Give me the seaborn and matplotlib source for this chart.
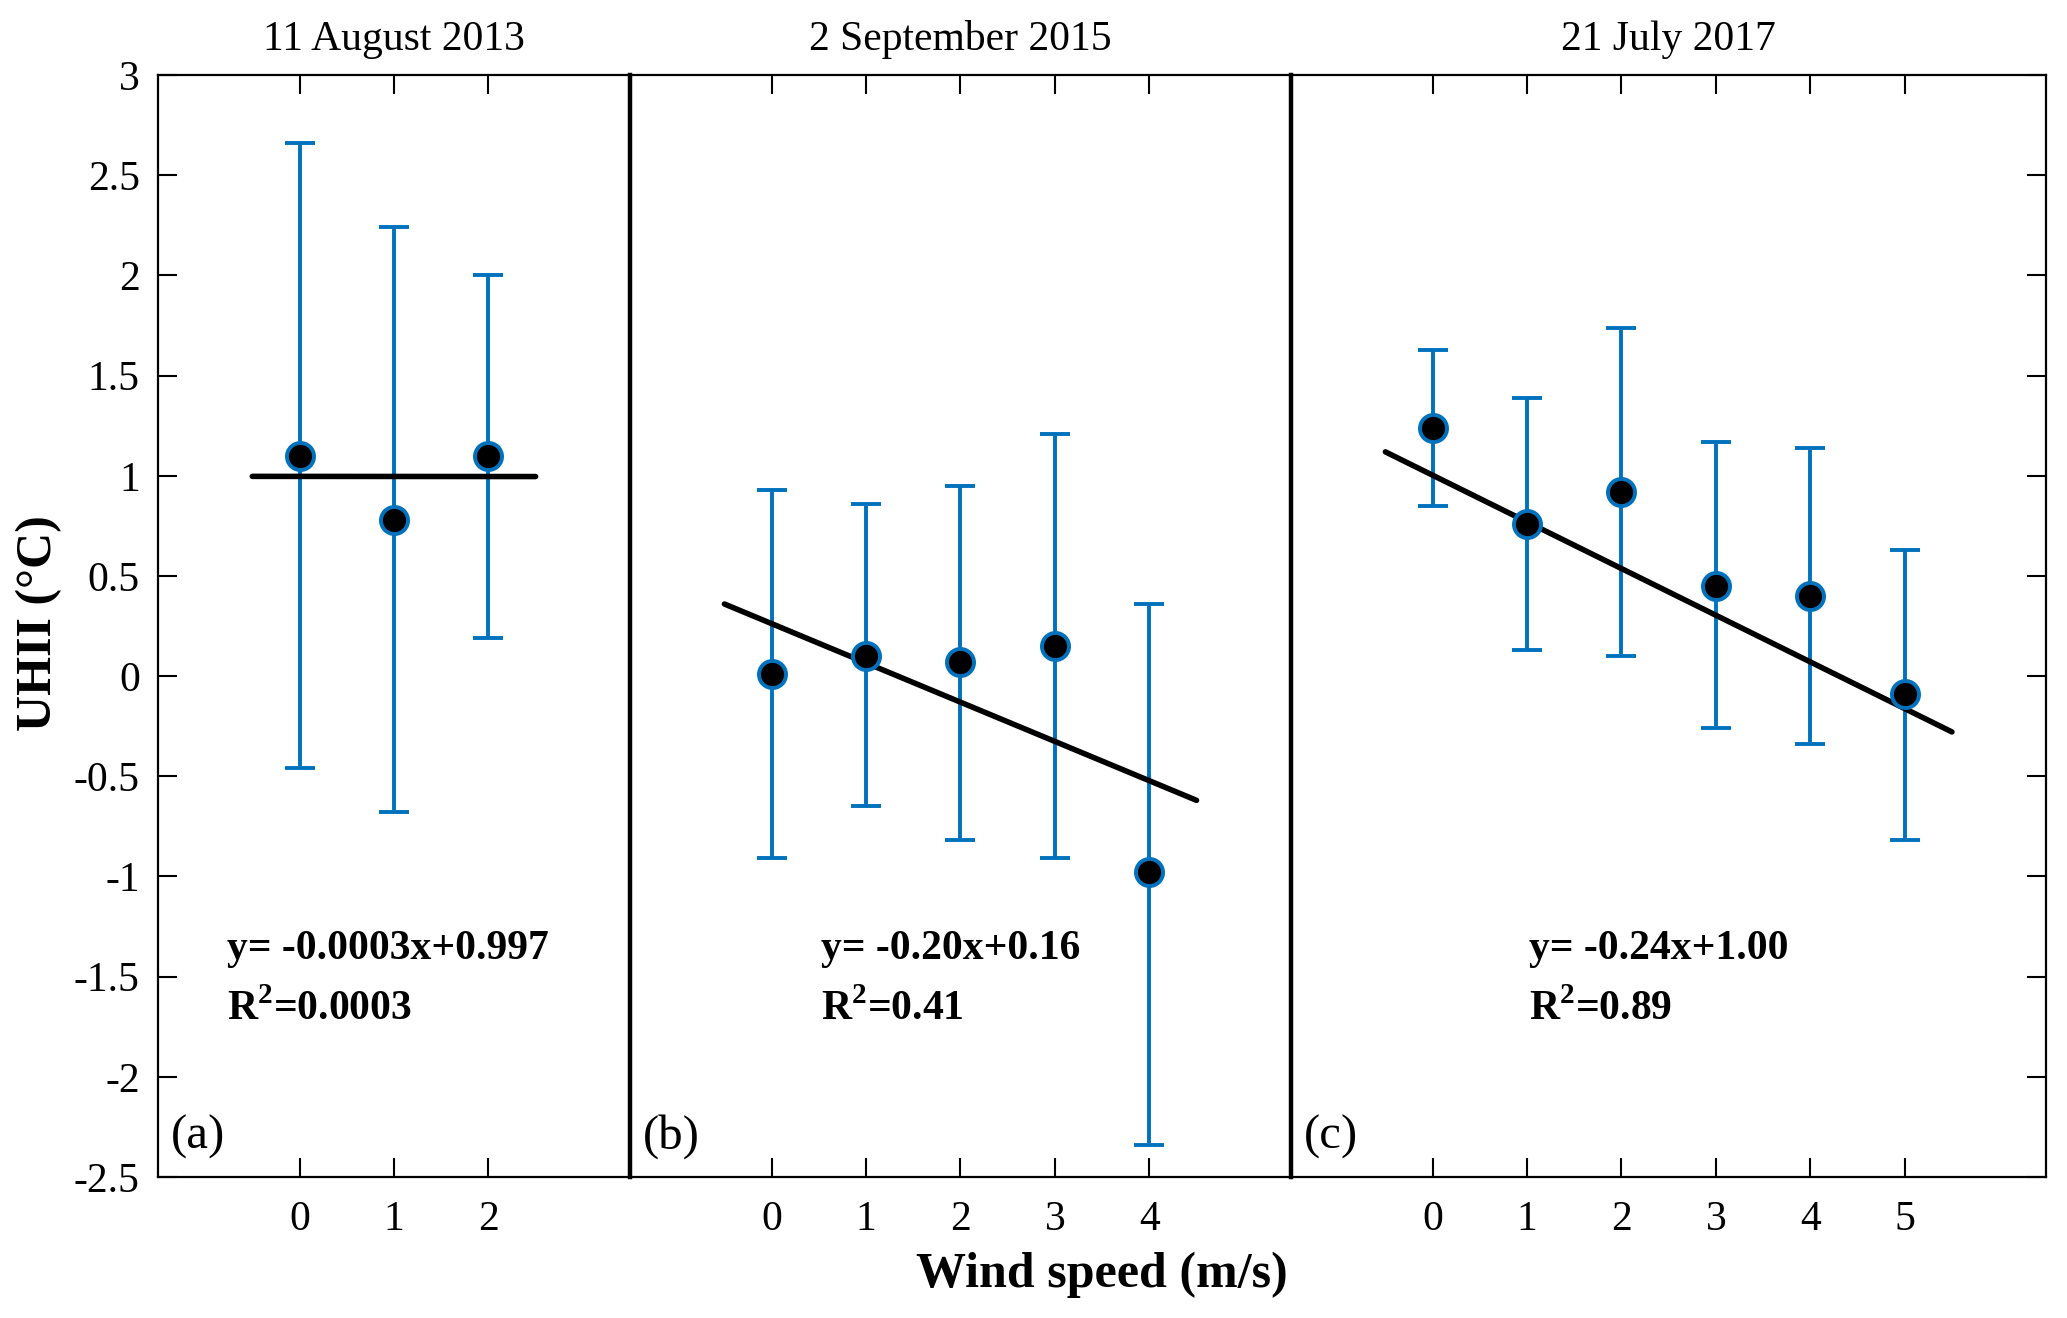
import numpy as np
import pandas as pd
import matplotlib
matplotlib.use("Agg")
import matplotlib.pyplot as plt
import seaborn as sns

# ---- data ----
titles  = ["11 August 2013", "2 September 2015", "21 July 2017"]
letters = ["(a)", "(b)", "(c)"]

wind_a  = [0, 1, 2]
mean_a  = [1.10, 0.78, 1.10]
upper_a = [2.66, 2.24, 2.00]
lower_a = [-0.46, -0.68, 0.19]

wind_b  = [0, 1, 2, 3, 4]
mean_b  = [0.01, 0.10, 0.07, 0.15, -0.98]
upper_b = [0.93, 0.86, 0.95, 1.21, 0.36]
lower_b = [-0.91, -0.65, -0.82, -0.91, -2.34]

wind_c  = [0, 1, 2, 3, 4, 5]
mean_c  = [1.24, 0.76, 0.92, 0.45, 0.40, -0.09]
upper_c = [1.63, 1.39, 1.74, 1.17, 1.14, 0.63]
lower_c = [0.85, 0.13, 0.10, -0.26, -0.34, -0.82]

# fitted lines as drawn (slope, intercept) and equation labels
fit_slope     = [-0.0003, -0.196, -0.233]
fit_intercept = [0.997, 0.262, 1.003]
eq_labels = ["y= -0.0003x+0.997", "y= -0.20x+0.16", "y= -0.24x+1.00"]
r2_labels = ["0.0003", "0.41", "0.89"]

panels = [
    (wind_a, mean_a, upper_a, lower_a),
    (wind_b, mean_b, upper_b, lower_b),
    (wind_c, mean_c, upper_c, lower_c),
]

BLUE = "#0072BD"

sns.set_theme(style="ticks")
plt.rcParams["font.family"] = ["Liberation Serif", "DejaVu Serif"]
plt.rcParams["mathtext.fontset"] = "custom"
plt.rcParams["mathtext.rm"] = "Liberation Serif"
plt.rcParams["mathtext.bf"] = "Liberation Serif:bold"
plt.rcParams["text.color"] = "black"
plt.rcParams["axes.labelcolor"] = "black"

fig = plt.figure(figsize=(20.67, 13.18), dpi=100)
gs = fig.add_gridspec(1, 3, width_ratios=[5, 7, 8], wspace=0,
                      left=0.0764, right=0.990, top=0.943, bottom=0.107)
axes = [fig.add_subplot(gs[0, i]) for i in range(3)]

for i, (ax, (w, m, up, lo)) in enumerate(zip(axes, panels)):
    df = pd.DataFrame({"wind": w, "uhii": m, "up": up, "lo": lo})
    ax.errorbar(df["wind"], df["uhii"],
                yerr=[df["uhii"] - df["lo"], df["up"] - df["uhii"]],
                fmt="none", ecolor=BLUE, elinewidth=2.8, capsize=11, capthick=2.8, zorder=2)
    xf = np.array([-0.5, max(w) + 0.5])
    fit = pd.DataFrame({"x": xf, "y": fit_slope[i] * xf + fit_intercept[i]})
    sns.lineplot(data=fit, x="x", y="y", ax=ax, color="black", linewidth=4, zorder=3)
    sns.scatterplot(data=df, x="wind", y="uhii", ax=ax, s=380, color="black",
                    edgecolor=BLUE, linewidth=2.8, zorder=4)

    ax.set_xlim(-1.5, max(w) + 1.5)
    ax.set_ylim(-2.5, 3)
    ax.set_xticks(w)
    ax.set_xticklabels([str(v) for v in w])
    ax.set_xlabel("")
    ax.set_ylabel("")
    ax.tick_params(axis="x", direction="in", length=14, width=1.5, top=True,
                   labelsize=30, pad=17, colors="black")
    ax.tick_params(axis="y", direction="in", length=14, width=1.5,
                   labelsize=30, pad=13, colors="black")
    for sp in ax.spines.values():
        sp.set_visible(True)
        sp.set_linewidth(1.6)
        sp.set_color("black")
    if i == 0:
        ax.set_yticks(np.arange(-2.5, 3.01, 0.5))
        ax.set_yticklabels([f"{v:g}" for v in np.arange(-2.5, 3.01, 0.5)])
    else:
        ax.spines["left"].set_linewidth(3.2)
        ax.tick_params(axis="y", left=False, labelleft=False)
    if i == 2:
        ax.set_yticks(np.arange(-2.5, 3.01, 0.5))
        ax.tick_params(axis="y", right=True, left=False, labelleft=False)
    if i < 2:
        ax.spines["right"].set_visible(False)

    ax.set_title(titles[i], fontsize=30, pad=18, color="black")
    ex = [-0.77, 0.52, 1.02][i]
    ax.text(ex, -1.36, eq_labels[i], fontsize=30, fontweight="bold", va="center", ha="left")
    ax.text(ex, -1.66, r"R$^{\mathbf{2}}$=" + r2_labels[i], fontsize=30,
            fontweight="bold", va="center", ha="left")
    ax.text(-1.36, -2.30, letters[i], fontsize=35, va="center", ha="left")

fig.text(0.019, 0.527, "UHII (°C)", rotation=90, fontsize=36, fontweight="bold",
         va="center", ha="center")
fig.text(0.533, 0.033, "Wind speed (m/s)", fontsize=36, fontweight="bold",
         va="center", ha="center")

plt.savefig("out.png", dpi=100)
plt.close()
